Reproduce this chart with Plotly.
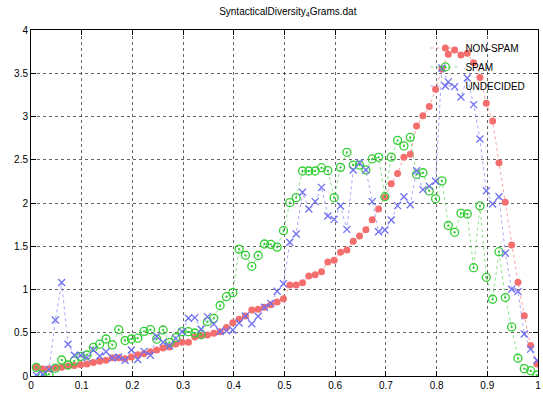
import plotly.graph_objects as go

x_vals = [0.0105, 0.023, 0.0355, 0.048, 0.0605, 0.073, 0.0855, 0.098, 0.1105, 0.123,
          0.1355, 0.148, 0.1605, 0.173, 0.1855, 0.198, 0.2105, 0.223, 0.2355, 0.248,
          0.2605, 0.273, 0.2855, 0.298, 0.3105, 0.323, 0.3355, 0.348, 0.3605, 0.373,
          0.3855, 0.398, 0.4105, 0.423, 0.4355, 0.448, 0.4605, 0.473, 0.4855, 0.498,
          0.5105, 0.523, 0.5355, 0.548, 0.5605, 0.573, 0.5855, 0.598, 0.6105, 0.623,
          0.6355, 0.648, 0.6605, 0.673, 0.6855, 0.698, 0.7105, 0.723, 0.7355, 0.748,
          0.7605, 0.773, 0.7855, 0.798, 0.8105, 0.823, 0.8355, 0.848, 0.8605, 0.873,
          0.8855, 0.898, 0.9105, 0.923, 0.9355, 0.948, 0.9605, 0.973, 0.9855, 0.998]

non_spam = [0.10, 0.08, 0.085, 0.095, 0.10, 0.115, 0.12, 0.13, 0.14, 0.155,
            0.17, 0.183, 0.21, 0.21, 0.20, 0.22, 0.245, 0.258, 0.28, 0.30,
            0.325, 0.335, 0.37, 0.39, 0.39, 0.45, 0.466, 0.474, 0.493, 0.512,
            0.56, 0.617, 0.655, 0.694, 0.763, 0.771, 0.794, 0.825, 0.855, 0.894,
            1.052, 1.052, 1.079, 1.156, 1.171, 1.206, 1.318, 1.337, 1.430, 1.457,
            1.557, 1.618, 1.69, 1.805, 1.931, 2.066, 2.222, 2.341, 2.528, 2.565,
            2.89, 3.01, 3.115, 3.314, 3.55, 3.72, 3.77, 3.71, 3.73, 3.62,
            3.45, 3.153, 2.948, 2.466, 2.008, 1.514, 1.083, 0.697, 0.352, 0.139]

spam = [0.10, 0.01, 0.02, 0.09, 0.185, 0.127, 0.175, 0.227, 0.243, 0.33,
        0.368, 0.428, 0.36, 0.537, 0.41, 0.428, 0.437, 0.516, 0.536, 0.426,
        0.532, 0.385, 0.443, 0.512, 0.512, 0.497, 0.48, 0.628, 0.667, 0.815,
        0.917, 0.963, 1.467, 1.395, 1.268, 1.393, 1.526, 1.522, 1.49, 1.68,
        2.004, 2.062, 2.37, 2.37, 2.37, 2.408, 2.374, 2.062, 2.412, 2.586,
        2.439, 2.439, 2.382, 2.509, 2.528, 2.073, 2.53, 2.724, 2.66, 2.759,
        2.33, 2.35, 2.14, 2.05, 2.256, 1.74, 1.661, 1.881, 1.873, 1.252,
        1.967, 1.141, 0.887, 1.437, 0.907, 0.567, 0.205, 0.085, 0.061, 0.011]

undecided = [0.01, 0.02, 0.077, 0.647, 1.08, 0.368, 0.24, 0.24, 0.21, 0.30,
             0.231, 0.281, 0.208, 0.22, 0.183, 0.30, 0.19, 0.285, 0.24, 0.46,
             0.39, 0.35, 0.435, 0.512, 0.667, 0.675, 0.54, 0.686, 0.60, 0.515,
             0.522, 0.532, 0.612, 0.694, 0.605, 0.69, 0.794, 0.84, 0.98, 1.066,
             1.546, 1.642, 2.124, 1.931, 2.016, 2.181, 1.85, 1.811, 1.965, 1.695,
             2.382, 2.466, 2.382, 2.016, 1.668, 1.688, 1.803, 1.97, 2.073, 1.98,
             2.372, 2.155, 2.195, 2.252, 3.56, 3.40, 3.345, 3.225, 3.445, 3.137,
             2.74, 2.142, 1.988, 2.072, 1.42, 1.003, 0.975, 0.486, 0.311, 0.18]

x_ticks = [0, 0.1, 0.2, 0.3, 0.4, 0.5, 0.6, 0.7, 0.8, 0.9, 1]
x_tick_labels = ["0", "0.1", "0.2", "0.3", "0.4", "0.5", "0.6", "0.7", "0.8", "0.9", "1"]
y_ticks = [0, 0.5, 1, 1.5, 2, 2.5, 3, 3.5, 4]
y_tick_labels = ["0", "0.5", "1", "1.5", "2", "2.5", "3", "3.5", "4"]

fig = go.Figure()
fig.add_trace(go.Scatter(
    x=x_vals, y=non_spam, name="NON-SPAM", mode="lines+markers",
    line=dict(color="rgba(240,100,100,0.6)", width=1, dash="dot"),
    marker=dict(symbol="circle", size=7, color="#f46e6e"),
))
fig.add_trace(go.Scatter(
    x=x_vals, y=spam, name="SPAM", mode="lines+markers",
    line=dict(color="rgba(60,210,60,0.6)", width=1, dash="dot"),
    marker=dict(symbol="circle-open-dot", size=8, color="#33cc33", line=dict(width=1.3)),
))
fig.add_trace(go.Scatter(
    x=x_vals, y=undecided, name="UNDECIDED", mode="lines+markers",
    line=dict(color="rgba(110,110,250,0.6)", width=1, dash="dot"),
    marker=dict(symbol="x-thin-open", size=7, color="#7070f0", line=dict(width=1.3)),
))

axis_common = dict(
    showline=True, linecolor="black", linewidth=1, mirror="ticks",
    ticks="inside", ticklen=5, tickcolor="black",
    showgrid=True, gridcolor="rgba(0,0,0,0.6)", griddash="dot", gridwidth=1,
    zeroline=False, ticklabeloverflow="allow",
    tickfont=dict(family="Liberation Sans, Arial, sans-serif", size=10, color="black"),
)

fig.update_xaxes(range=[0, 1], tickmode="array", tickvals=x_ticks, ticktext=x_tick_labels,
                 **axis_common)
fig.update_yaxes(range=[0, 4], tickmode="array", tickvals=y_ticks, ticktext=y_tick_labels,
                 **axis_common)

fig.update_layout(
    width=543, height=394,
    margin=dict(l=31, r=2, t=30, b=18),
    paper_bgcolor="white", plot_bgcolor="white",
    title=dict(text="SyntacticalDiversity<sub>4</sub>Grams.dat", x=0.53, xanchor="center",
               y=0.972, yanchor="middle",
               font=dict(family="Liberation Sans, Arial, sans-serif", size=10, color="black")),
    legend=dict(x=0.985, y=0.99, xanchor="right", yanchor="top",
                bgcolor="rgba(0,0,0,0)", borderwidth=0,
                font=dict(family="Liberation Sans, Arial, sans-serif", size=10, color="black"),
                tracegroupgap=0, itemwidth=30),
    showlegend=True,
)

fig.write_html("out.html", config={"displayModeBar": False},
               post_script="document.body.style.margin='0';")
